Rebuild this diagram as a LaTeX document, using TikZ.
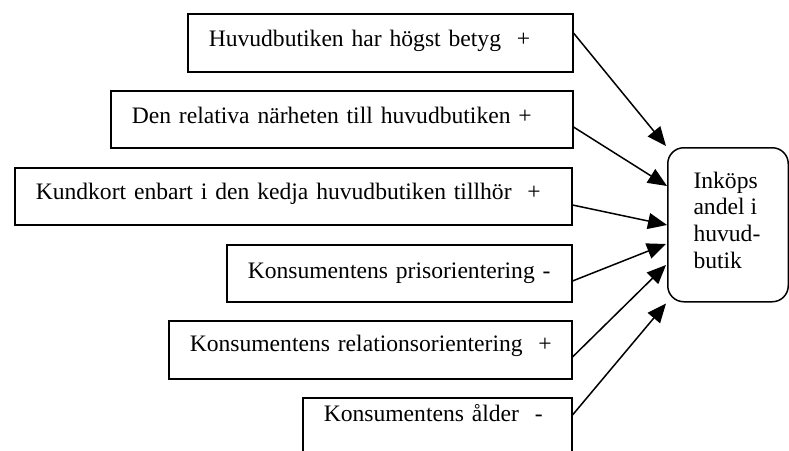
\documentclass[tikz,border=0pt]{standalone}
\usepackage{fontspec}
\setmainfont{Liberation Serif}
\usetikzlibrary{arrows.meta}
\begin{document}
\begin{tikzpicture}[x=1pt,y=-1pt,
  box/.style={draw, line width=1.5pt, anchor=north west, inner xsep=21pt, inner ysep=0pt,
    align=left, font=\fontsize{23.6}{28}\selectfont},
  target/.style={draw, line width=1.5pt, rounded corners=16pt, anchor=north west, inner sep=0pt},
  link/.style={line width=1.5pt, -{Triangle[length=19pt,width=16pt]}}]
\useasboundingbox (0,0) rectangle (789,450);
\clip (0,0) rectangle (789,450);
\node[box, text width=343pt, text height=32.5pt, text depth=25.5pt] (b1) at (187,13) {\mbox{Huvudbutiken har högst betyg\ \ +}};
\node[box, text width=420pt, text height=33pt, text depth=24pt] (b2) at (110,90) {\mbox{Den relativa närheten till huvudbutiken +}};
\node[box, text width=515pt, text height=32pt, text depth=25pt] (b3) at (14,167) {\mbox{Kundkort enbart i den kedja huvudbutiken tillhör\ \ +}};
\node[box, text width=303pt, text height=34pt, text depth=23pt] (b4) at (226,244) {\mbox{Konsumentens prisorientering -}};
\node[box, text width=361pt, text height=31pt, text depth=27pt] (b5) at (168,320) {\mbox{Konsumentens relationsorientering\ \ +}};
\node[box, text width=227pt, text height=24pt, text depth=40pt] (b6) at (302,397) {\mbox{Konsumentens ålder\ \ -}};
\node[target, minimum width=120.5pt, minimum height=154pt] (t) at (667,147)
  {\parbox[c][106pt][t]{69pt}{\fontsize{23.6}{26.7}\selectfont\raggedright Inköps\\andel i\\huvud-\\butik}};
\draw[link] ([yshift=-20pt]b1.north east) -- ([shift={(-1pt,1pt)}]t.north west);
\draw[link] ([yshift=-37pt]b2.north east) -- ([yshift=-39pt]t.north west);
\draw[link] ([yshift=-38pt]b3.north east) -- ([yshift=-78pt]t.north west);
\draw[link] ([yshift=-37pt]b4.north east) -- ([shift={(-1pt,-97pt)}]t.north west);
\draw[link] ([yshift=-37pt]b5.north east) -- ([shift={(-1pt,-118pt)}]t.north west);
\draw[link] ([yshift=-18pt]b6.north east) -- ([shift={(-1pt,-1pt)}]t.south west);
\end{tikzpicture}
\end{document}
